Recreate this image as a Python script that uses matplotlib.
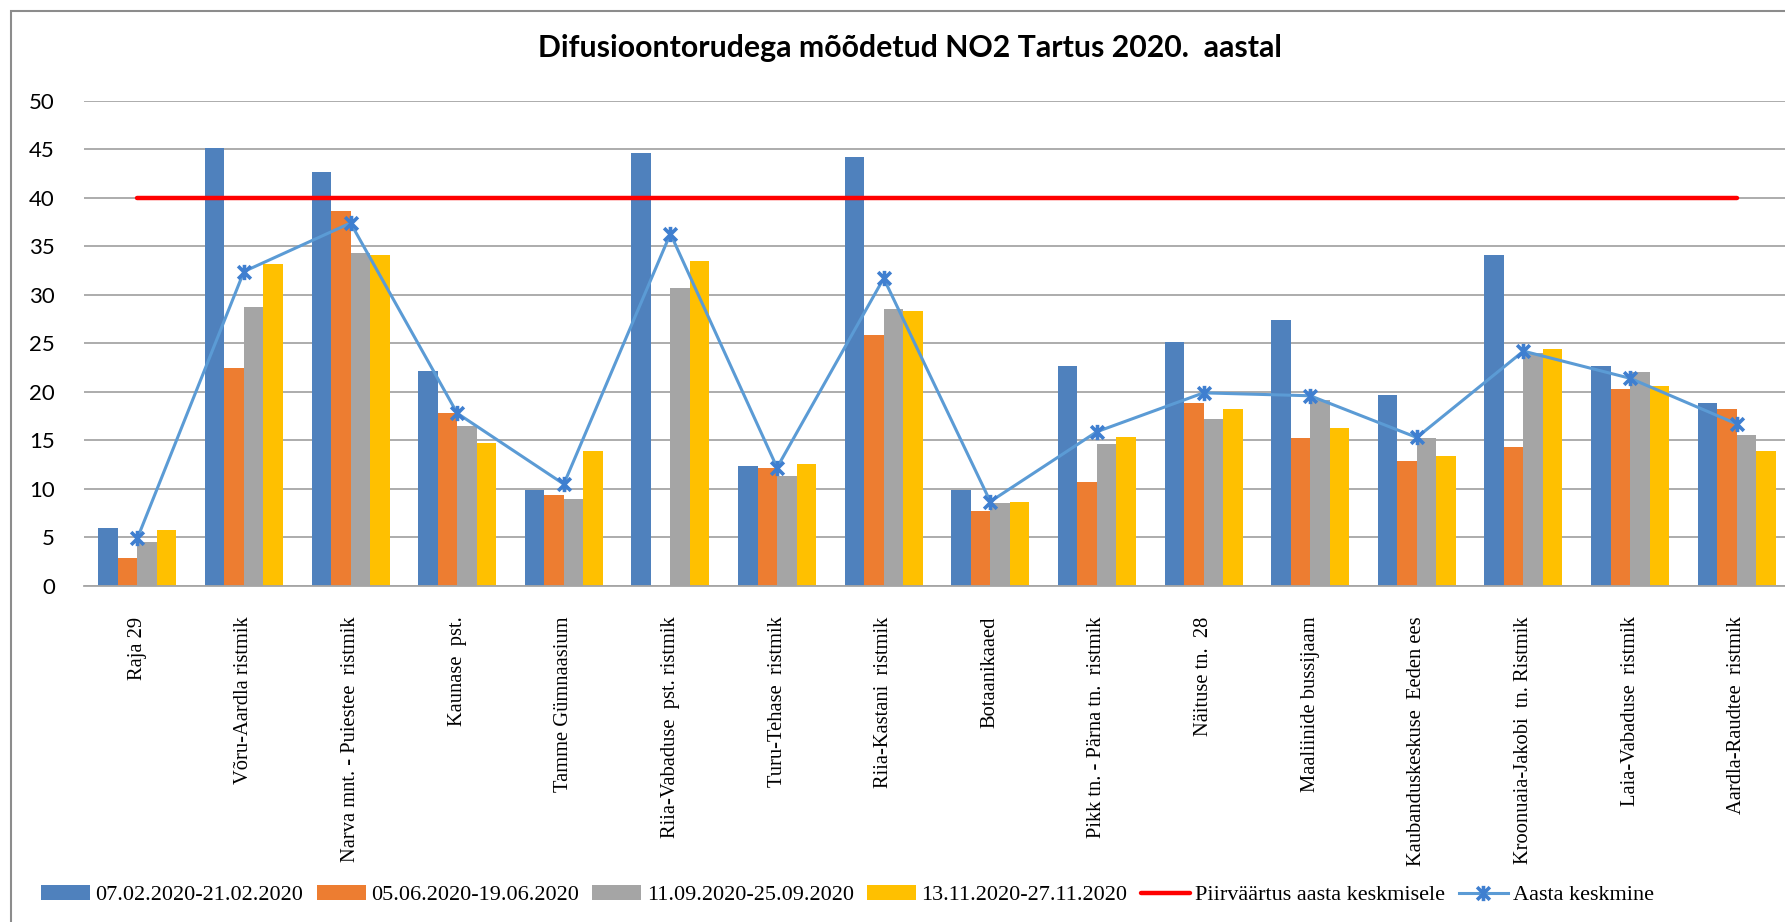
import numpy as np
import matplotlib
matplotlib.use("Agg")
import matplotlib.pyplot as plt
from matplotlib.path import Path
from matplotlib.patches import Rectangle

# NO2 measured with diffusion tubes, Tartu 2020
locations = [
    "Raja 29",
    "Võru-Aardla ristmik",
    "Narva mnt. - Puiestee  ristmik",
    "Kaunase  pst.",
    "Tamme Gümnaasium",
    "Riia-Vabaduse  pst. ristmik",
    "Turu-Tehase  ristmik",
    "Riia-Kastani  ristmik",
    "Botaanikaaed",
    "Pikk tn. - Pärna tn.  ristmik",
    "Näituse tn.  28",
    "Maaliinide bussijaam",
    "Kaubanduskeskuse  Eeden ees",
    "Kroonuaia-Jakobi  tn. Ristmik",
    "Laia-Vabaduse  ristmik",
    "Aardla-Raudtee  ristmik",
]

period_labels = [
    "07.02.2020-21.02.2020",
    "05.06.2020-19.06.2020",
    "11.09.2020-25.09.2020",
    "13.11.2020-27.11.2020",
]

feb = [6.0, 45.1, 42.7, 22.1, 9.9, 44.6, 12.4, 44.2, 9.9, 22.7, 25.1, 27.4, 19.7, 34.1, 22.7, 18.9]
jun = [2.9, 22.5, 38.6, 17.8, 9.4, np.nan, 12.2, 25.9, 7.7, 10.7, 18.9, 15.2, 12.9, 14.3, 20.3, 18.2]
sep = [4.5, 28.7, 34.3, 16.5, 9.0, 30.7, 11.3, 28.5, 8.5, 14.6, 17.2, 19.2, 15.2, 24.0, 22.0, 15.6]
nov = [5.8, 33.2, 34.1, 14.7, 13.9, 33.5, 12.6, 28.3, 8.7, 15.4, 18.2, 16.3, 13.4, 24.4, 20.6, 13.9]

limit_value = [40] * len(locations)
annual_mean = [4.9, 32.4, 37.4, 17.8, 10.5, 36.3, 12.2, 31.7, 8.7, 15.9, 19.9, 19.6, 15.3, 24.2, 21.4, 16.7]

bar_colors = ["#4F81BD", "#ED7D31", "#A5A5A5", "#FFC000"]

# Excel-like star marker: an X with a vertical stroke
star = Path(
    [(-1, -1), (1, 1), (-1, 1), (1, -1), (0, -1.2), (0, 1.2)],
    [Path.MOVETO, Path.LINETO, Path.MOVETO, Path.LINETO, Path.MOVETO, Path.LINETO],
)

fig = plt.figure(figsize=(17.85, 9.22), dpi=100)
fig.patches.append(Rectangle((11 / 1785, -0.05), 1.1, 1 - 11 / 922 + 0.05,
                             transform=fig.transFigure, fill=False,
                             edgecolor="#8C8C8C", linewidth=1.5))

ax = fig.add_axes([84 / 1785, 336 / 922, 1706 / 1785, 485.3 / 922])

x = np.arange(len(locations))
bw = 0.183
bars = []
for i, (vals, lab) in enumerate(zip([feb, jun, sep, nov], period_labels)):
    bars.append(ax.bar(x + (i - 1.5) * bw, vals, width=bw, color=bar_colors[i],
                       label=lab, zorder=2))

limit_line, = ax.plot(x, limit_value, color="#FF0000", linewidth=3.2, solid_capstyle="round",
                      label="Piirväärtus aasta keskmisele", zorder=3)
mean_line, = ax.plot(x, annual_mean, color="#5B9BD5", linewidth=2.2, marker=star, markersize=11,
                     markeredgecolor="#3F7FD0", markeredgewidth=2.6,
                     label="Aasta keskmine", zorder=4)

ax.set_xlim(-0.5, len(locations) - 0.5)
ax.set_ylim(0, 50)
ax.set_yticks(np.arange(0, 51, 5))
ax.yaxis.grid(True, color="#A6A6A6", linewidth=1.3, zorder=0)
ax.set_axisbelow(True)
for s in ["top", "right", "left"]:
    ax.spines[s].set_visible(False)
ax.spines["bottom"].set_color("#A6A6A6")
ax.spines["bottom"].set_linewidth(1.3)
ax.tick_params(axis="both", length=0)
ax.tick_params(axis="y", pad=21)
ax.tick_params(axis="x", pad=22)
for t in ax.get_yticklabels():
    t.set_fontfamily("Lato")
    t.set_fontsize(16)
ax.set_xticks(x)
ax.set_xticklabels(locations, rotation=90, va="top", ha="center",
                   fontfamily="Liberation Serif", fontsize=14.8)

fig.text(910 / 1785, 1 - 48 / 922, "Difusioontorudega mõõdetud NO2 Tartus 2020.  aastal",
         ha="center", va="center", fontfamily="Lato", fontweight="bold", fontsize=21.8)

handles = bars + [limit_line, mean_line]
ax.legend(handles=handles, loc="center left", bbox_to_anchor=(21 / 1785, 1 - 895 / 922),
          bbox_transform=fig.transFigure, ncol=6, frameon=False,
          prop={"family": "Liberation Serif", "size": 16},
          handlelength=2.2, handleheight=0.65, handletextpad=0.25, columnspacing=0.6)

fig.savefig("out.png", dpi=100)
